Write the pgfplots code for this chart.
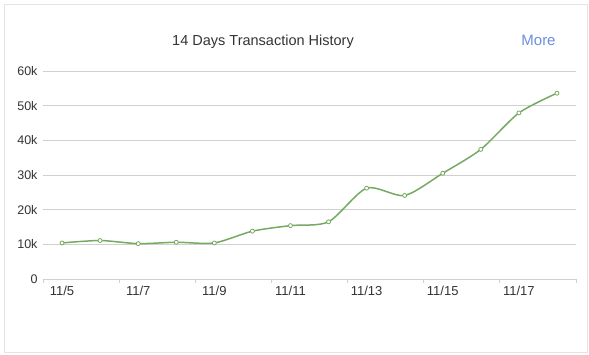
\documentclass[border=0pt]{standalone}
\usepackage{pgfplots}
\pgfplotsset{compat=1.18}
\usepackage{fontspec}
\setmainfont{Liberation Sans}
\definecolor{linegreen}{HTML}{76AA62}
\definecolor{gridgray}{HTML}{D0D0D0}
\definecolor{txt}{HTML}{333333}
\definecolor{moreblue}{HTML}{6A8EE0}
\definecolor{border}{HTML}{E4E4E4}
\begin{document}
\begin{tikzpicture}[x=1pt,y=1pt]
\useasboundingbox (0,0) rectangle (589,354);
\draw[border, line width=0.8pt] (4,1.5) rectangle (587,350);
\node[txt, font=\fontsize{14.5}{16}\selectfont] at (263,312.5) {14 Days Transaction History};
\node[moreblue, font=\fontsize{15}{17}\selectfont] at (538.5,313.5) {More};
\begin{axis}[
  at={(43pt,75pt)}, anchor=south west,
  scale only axis, width=533pt, height=208pt,
  xmin=-0.5, xmax=13.5, ymin=0, ymax=60000,
  axis line style={draw=none},
  scaled y ticks=false,
  ytick={0,10000,20000,30000,40000,50000,60000},
  yticklabels={0,10k,20k,30k,40k,50k,60k},
  ymajorgrids, grid style={gridgray, line width=0.8pt},
  major tick length=0pt,
  tick pos=left,
  yticklabel style={txt, font=\fontsize{12.5}{14}\selectfont, xshift=-2pt},
  xtick={0,2,4,6,8,10,12},
  xticklabels={11/5,11/7,11/9,11/11,11/13,11/15,11/17},
  xticklabel style={txt, font=\fontsize{13}{15}\selectfont, yshift=-4pt},
  extra x ticks={-0.5,1.5,3.5,5.5,7.5,9.5,11.5,13.5},
  extra x tick labels={},
  extra x tick style={xtick align=outside, major tick length=4pt, tick style={gridgray, line width=0.8pt}, grid=none},
  tick style={gridgray},
  clip=false,
]
\addplot[linegreen, line width=1.5pt, smooth, tension=0.45,
  mark=*, mark size=2pt, mark options={fill=white, draw=linegreen, line width=0.8pt}]
  coordinates {
  (0,10400) (1,11100) (2,10200) (3,10600) (4,10400) (5,13800) (6,15400)
  (7,16500) (8,26200) (9,24100) (10,30500) (11,37400) (12,47900) (13,53600)
  };
\end{axis}
\end{tikzpicture}
\end{document}
